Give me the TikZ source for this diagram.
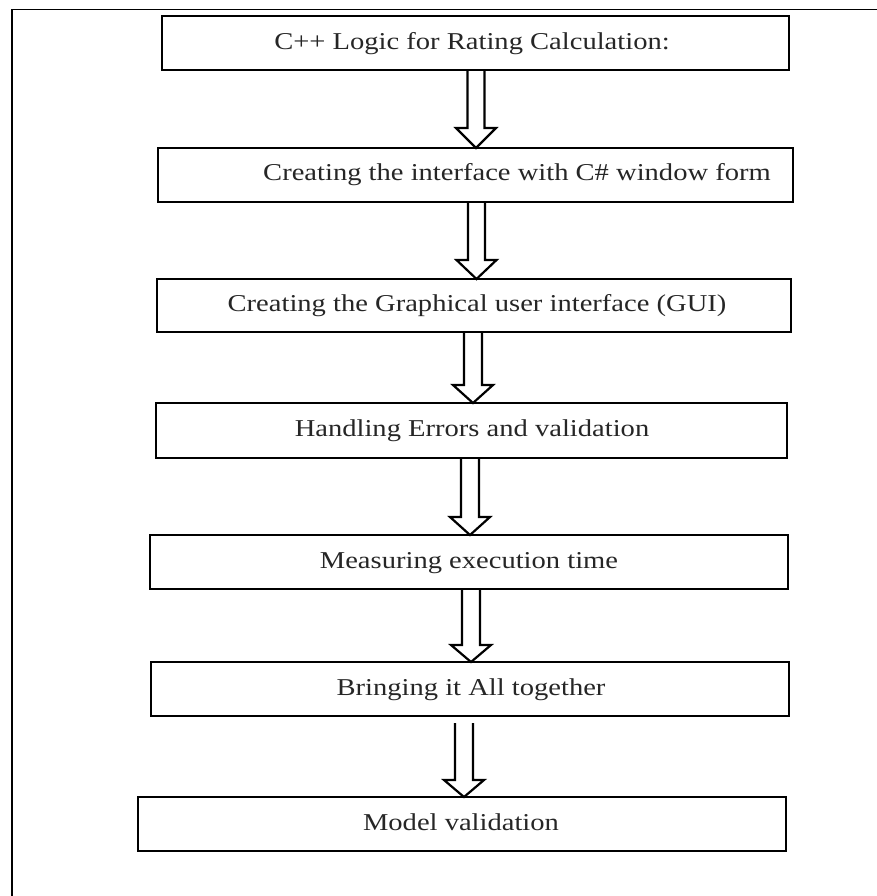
\documentclass[tikz,border=0pt]{standalone}
\usepackage{fontspec}
\setmainfont{Liberation Serif}[FakeStretch=1.18]
\usetikzlibrary{calc}

% Hollow block arrow from the bottom of one box to the top of the next.
% #1 from node, #2 to node, #3 centre x, #4 half shaft width,
% #5 half head width, #6 y of the head base, #7 gap below the upper box
\newcommand\flowarrow[7]{%
  \draw[blockarrow]
    ($(#3-#4,0 |- #1.south)+(0,#7)$) -- (#3-#4,#6) -- (#3-#5,#6)
    -- (#3,0 |- #2.north) -- (#3+#5,#6) -- (#3+#4,#6)
    -- ($(#3+#4,0 |- #1.south)+(0,#7)$);}

\begin{document}
\begin{tikzpicture}[x=1pt,y=-1pt,
  stepbox/.style={draw=black, line width=2.6pt, minimum height=54pt,
    inner sep=0pt, outer sep=0pt},
  steptext/.style={anchor=base, inner sep=0pt, text=black!85,
    font=\fontsize{24.2}{28}\selectfont},
  blockarrow/.style={draw=black, line width=2.2pt, line join=miter},
  frameline/.style={draw=black, line width=1.6pt}]
\useasboundingbox (0,0) rectangle (877,896);

% page frame (top and left edges)
\draw[frameline] (12,896) -- (12,9.5) -- (877,9.5);

% step boxes
\node[stepbox, minimum width=627pt] (b1) at (475.5,43) {};
\node[stepbox, minimum width=635pt] (b2) at (475.5,175) {};
\node[stepbox, minimum width=634pt, minimum height=53pt] (b3) at (474,305.5) {};
\node[stepbox, minimum width=631pt, minimum height=55pt] (b4) at (471.5,430.5) {};
\node[stepbox, minimum width=638pt] (b5) at (469,562) {};
\node[stepbox, minimum width=638pt] (b6) at (470,689) {};
\node[stepbox, minimum width=648pt] (b7) at (462,824) {};

% step labels
\node[steptext] (t1) at (472,49.5) {C++ Logic for Rating Calculation:};
\node[steptext] (t2) at (517,181) {Creating the interface with C\# window form};
\node[steptext] (t3) at (477,311.5) {Creating the Graphical user interface (GUI)};
\node[steptext] (t4) at (472,436.5) {Handling Errors and validation};
\node[steptext] (t5) at (469,568) {Measuring execution time};
\node[steptext] (t6) at (471,695) {Bringing it All together};
\node[steptext] (t7) at (461,830) {Model validation};

% arrows between the steps
\flowarrow{b1}{b2}{476}{8.5}{20}{128}{0}
\flowarrow{b2}{b3}{476.5}{8.5}{20}{260}{0}
\flowarrow{b3}{b4}{473}{9}{20}{385}{0}
\flowarrow{b4}{b5}{470}{9}{20}{517}{0}
\flowarrow{b5}{b6}{471}{9}{20}{645}{0}
\flowarrow{b6}{b7}{464}{9}{20}{780}{7}
\end{tikzpicture}
\end{document}
